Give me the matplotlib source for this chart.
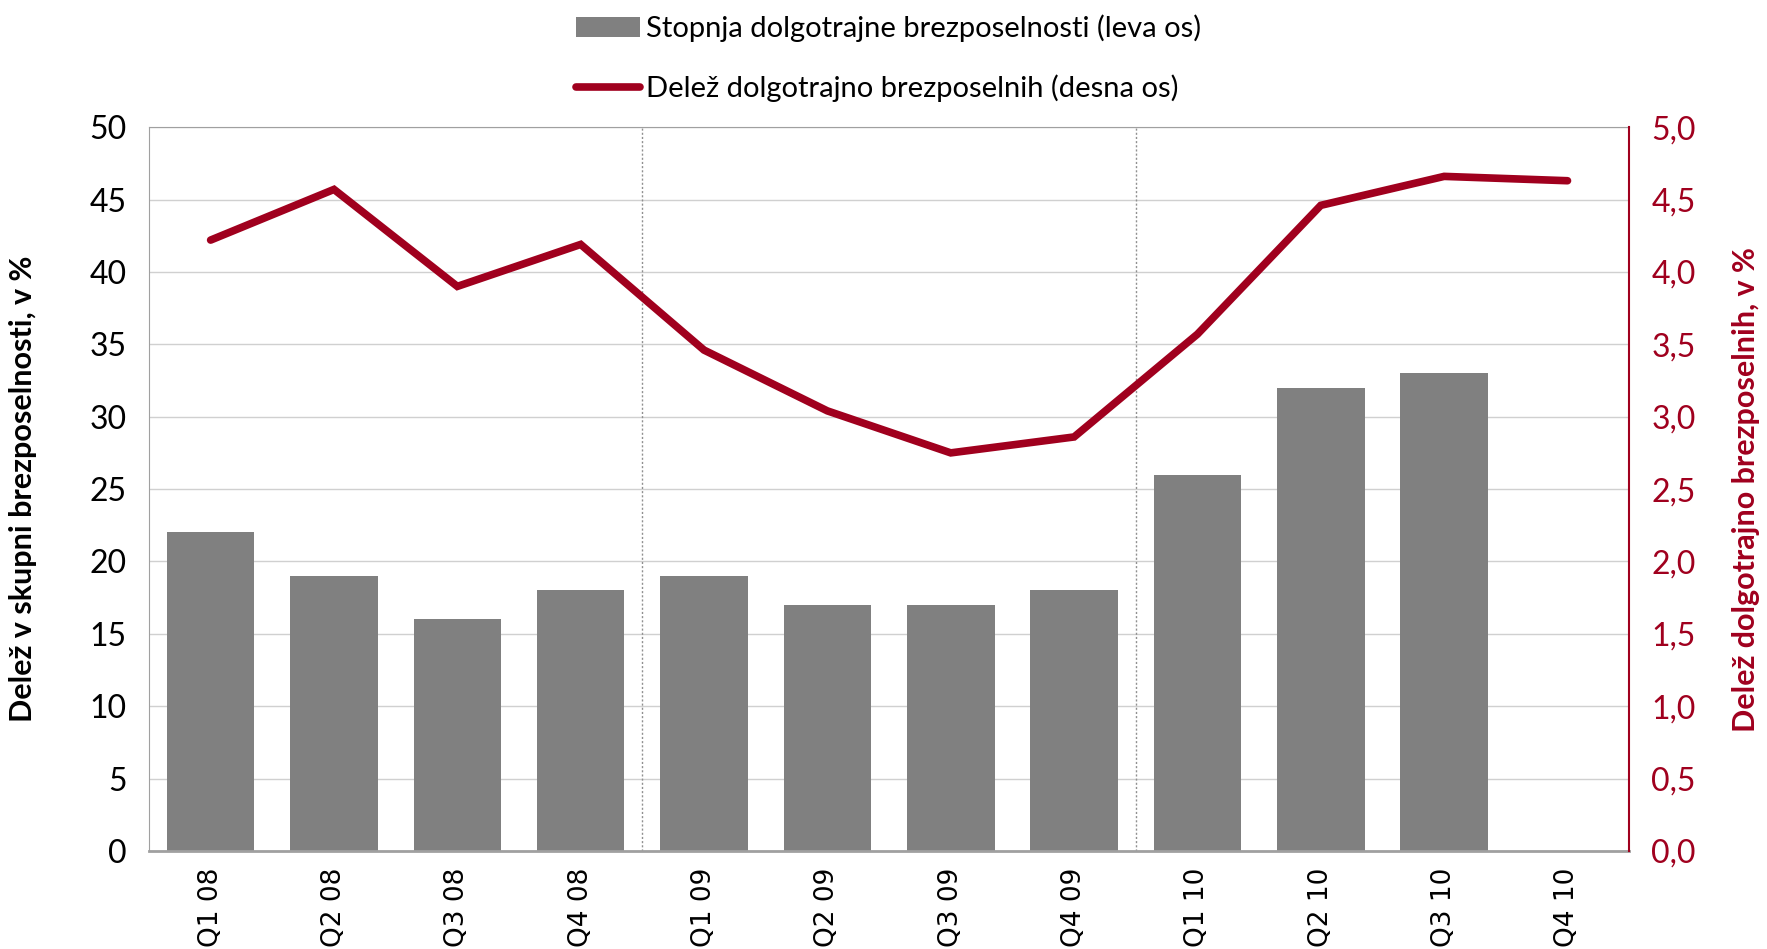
import numpy as np
import matplotlib.pyplot as plt
from matplotlib.ticker import FuncFormatter

plt.rcParams['font.family'] = ['Lato', 'DejaVu Sans']

# podatki
kvartali = ['Q1 08', 'Q2 08', 'Q3 08', 'Q4 08', 'Q1 09', 'Q2 09',
            'Q3 09', 'Q4 09', 'Q1 10', 'Q2 10', 'Q3 10', 'Q4 10']
stopnja = [22, 19, 16, 18, 19, 17, 17, 18, 26, 32, 33, np.nan]
delez = [4.22, 4.57, 3.90, 4.19, 3.46, 3.04, 2.75, 2.86, 3.57, 4.46, 4.66, 4.63]

red = '#A0001E'
grey = '#808080'

fig = plt.figure(figsize=(17.67, 9.49), dpi=100)
ax = fig.add_axes([0.0843, 0.1033, 0.8377, 0.7627])
ax2 = ax.twinx()

x = np.arange(len(kvartali))
b = ax.bar(x, stopnja, width=0.71, color=grey, zorder=2,
           label='Stopnja dolgotrajne brezposelnosti (leva os)')
l, = ax2.plot(x, delez, color=red, lw=5.5, solid_capstyle='round',
              solid_joinstyle='miter', zorder=3,
              label='Delež dolgotrajno brezposelnih (desna os)')

ax.set_xlim(-0.5, 11.5)
ax.set_ylim(0, 50)
ax.set_yticks(range(0, 51, 5))
ax2.set_ylim(0, 5)
ax2.set_yticks(np.arange(0, 5.01, 0.5))
ax2.yaxis.set_major_formatter(FuncFormatter(lambda v, p: f'{v:.1f}'.replace('.', ',')))

ax.yaxis.grid(True, color='#d0d0d0', lw=1, zorder=0)
ax.set_axisbelow(True)
for xv in [3.5, 7.5]:
    ax.axvline(xv, color='#909090', lw=1, ls=(0, (1.5, 1.5)), zorder=1)

ax.set_xticks(x)
ax.set_xticklabels(kvartali, rotation=90, fontsize=19, family=['DejaVu Sans'])
ax.tick_params(axis='x', length=0, pad=12)
ax.tick_params(axis='y', length=0, labelsize=23, pad=16)
ax2.tick_params(axis='y', length=0, labelsize=23, labelcolor=red, pad=16)

for s in ['left', 'top']:
    ax.spines[s].set_color('#a0a0a0')
ax.spines['bottom'].set_color('#a0a0a0')
ax.spines['bottom'].set_linewidth(2)
ax.spines['right'].set_visible(False)
ax2.spines['right'].set_color(red)
ax2.spines['right'].set_linewidth(1.5)
for s in ['left', 'top', 'bottom']:
    ax2.spines[s].set_visible(False)

ax.set_ylabel('Delež v skupni brezposelnosti, v %', fontsize=22,
              fontweight='bold', labelpad=38)
ax2.set_ylabel('Delež dolgotrajno brezposelnih, v %', fontsize=22,
               fontweight='bold', color=red, labelpad=26)

fig.legend(handles=[b, l], loc='upper center', bbox_to_anchor=(0.503, 1.012),
           frameon=False, fontsize=21, handlelength=2.2, handletextpad=0.2,
           labelspacing=1.1)

fig.savefig('out.png', dpi=100)
